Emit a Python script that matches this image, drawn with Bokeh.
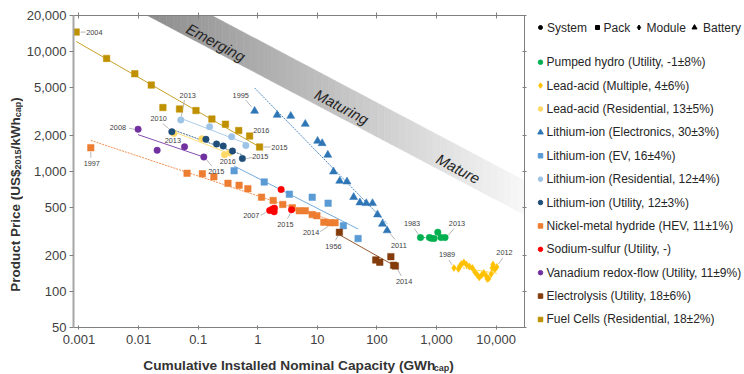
import math
import numpy as np
from bokeh.plotting import figure
from bokeh.layouts import row, column
from bokeh.models import LogAxis, FixedTicker, Range1d
from bokeh.core.properties import value
from bokeh.embed import file_html
from bokeh.resources import INLINE

FONT = "Liberation Sans"

# ---------------- axes ----------------
X_MIN, X_MAX = 0.00081, 29850
Y_MIN, Y_MAX = 50, 20000
X_TICKS = [0.001, 0.01, 0.1, 1, 10, 100, 1000, 10000]
X_TICK_LABELS = ["0.001", "0.01", "0.1", "1", "10", "100", "1,000", "10,000"]
Y_TICKS = [50, 100, 200, 500, 1000, 2000, 5000, 10000, 20000]
Y_TICK_LABELS = ["50", "100", "200", "500", "1,000", "2,000", "5,000", "10,000", "20,000"]

# ---------------- data (GWh_cap, US$2015/kWh_cap) ----------------
PH_X = [537, 759, 818, 908, 1047, 1189, 1386]
PH_Y = [281, 281, 277, 276, 311, 281, 281]

LAM_X = [1957, 2326, 2467, 2611, 2873, 3162, 3548, 3981, 4382, 4824, 5209,
         5733, 6192, 6813, 7079, 7499, 8254, 8576, 8846, 9441, 10193]
LAM_Y = [157, 154, 163, 169.5, 174.5, 168, 161.5, 157, 145.4, 137.2, 130.8,
         137.2, 142.6, 134.6, 127.1, 128.3, 139.9, 157, 168, 152.5, 160]

LAR_X = [0.0391, 0.1157, 0.2764, 0.335]
LAR_Y = [2073, 1873, 1380, 1431]

LIE_X = [0.885, 2.113, 3.576, 6.26, 10.08, 12.02, 14.96, 18.62, 23.7, 31.4,
         40.6, 51.7, 66.1, 84.1, 102, 123.5, 148]
LIE_Y = [3194, 2958, 2900, 2488, 1796, 1718, 1373, 996, 833, 822,
         610, 550, 543, 543, 437, 365, 322]

EV_X = [0.401, 1.283, 3.39, 8.19, 15.14, 27.3, 48.2]
EV_Y = [1015, 817, 647, 610, 544, 353, 276]

LIR_X = [0.0511, 0.1555, 0.3645, 0.631]
LIR_Y = [2687, 2362, 1950, 1647]

LIU_X = [0.0362, 0.1349, 0.2034, 0.263, 0.376, 0.552]
LIU_Y = [2146, 1855, 1695, 1631, 1482, 1283]

NIMH_X = [0.00158, 0.0651, 0.1175, 0.1834, 0.316, 0.486, 0.682, 1.157, 1.813,
          2.63, 3.80, 4.97, 6.26, 8.19, 9.81, 12.83, 16.15, 19.8]
NIMH_Y = [1579, 966, 957, 903, 797, 767, 719, 611, 573,
          531, 499, 471, 470, 437, 428, 378, 374, 374]

NAS_X = [1.585, 1.765, 1.884, 1.905, 2.464, 3.687]
NAS_Y = [473, 487, 462, 494, 708, 480]

VRF_X = [0.00981, 0.0205, 0.0591, 0.1245]
VRF_Y = [2252, 1502, 1606, 1321]

ELY_X = [23.4, 95.5, 111.4, 171, 190.5, 203.4]
ELY_Y = [311, 183, 175, 195, 165, 163]

FC_X = [0.000898, 0.00291, 0.00865, 0.01634, 0.0256, 0.0486, 0.0919, 0.170,
        0.287, 0.479, 0.730, 1.072]
FC_Y = [14540, 8775, 6531, 5258, 3415, 3318, 3224, 2738, 2479, 2196, 1976, 1600]

SERIES_KEYS = ["PH", "LAM", "LAR", "LIE", "EV", "LIR", "LIU", "NIMH", "NAS", "VRF", "ELY", "FC"]
SERIES_NAMES = [
    "Pumped hydro (Utility, -1±8%)",
    "Lead-acid (Multiple, 4±6%)",
    "Lead-acid (Residential, 13±5%)",
    "Lithium-ion (Electronics, 30±3%)",
    "Lithium-ion (EV, 16±4%)",
    "Lithium-ion (Residential, 12±4%)",
    "Lithium-ion (Utility, 12±3%)",
    "Nickel-metal hydride (HEV, 11±1%)",
    "Sodium-sulfur (Utility, -)",
    "Vanadium redox-flow (Utility, 11±9%)",
    "Electrolysis (Utility, 18±6%)",
    "Fuel Cells (Residential, 18±2%)",
]
SERIES_X = [PH_X, LAM_X, LAR_X, LIE_X, EV_X, LIR_X, LIU_X, NIMH_X, NAS_X, VRF_X, ELY_X, FC_X]
SERIES_Y = [PH_Y, LAM_Y, LAR_Y, LIE_Y, EV_Y, LIR_Y, LIU_Y, NIMH_Y, NAS_Y, VRF_Y, ELY_Y, FC_Y]
SERIES_TREND = [True, True, True, True, True, True, True, True, False, True, True, True]

LEGEND_HEADER = ["System", "Pack", "Module", "Battery"]
LEGEND_HEADER_MARKERS = ["circle", "square", "diamond", "triangle"]

# ---------------- styles ----------------
COLORS = ["#00B050", "#FFC000", "#FFD966", "#2E75B6", "#5B9BD5", "#9DC3E6",
          "#1F4E79", "#ED7D31", "#FF0000", "#7030A0", "#843C0C", "#BF9000"]
MARKERS = ["circle", "diamond", "circle", "triangle", "square", "circle",
           "circle", "square", "circle", "circle", "square", "square"]
SIZES = {"circle": 6.5, "square": 6.5, "triangle": 8, "diamond": 7}
LEG_SIZES = {"circle": 4.5, "square": 4.5, "triangle": 5.5, "diamond": 5.5}
DASHES = ["2 1", "2 1", "solid", "2 1", "solid", "solid", "2 1", "2 1", "solid", "solid", "solid", "solid"]

# page layout (px)
W, H = 744, 374
YT_W = 23                     # strip for the y title
MAIN_W, MAIN_H = 505, 350     # main plot
LEG_W = W - YT_W - MAIN_W     # legend strip
XT_H = H - MAIN_H             # strip for the x title
FRAME_W, FRAME_H = 454, 312
BORDER_L = MAIN_W - FRAME_W - 4
FRAME_X0 = YT_W + BORDER_L    # page x of the plot frame's left edge
PXD_X = FRAME_W / math.log10(X_MAX / X_MIN)
PXD_Y = FRAME_H / math.log10(Y_MAX / Y_MIN)

# year annotations: series, point index, text, label offset (px), leader offsets (px)
YEAR_LABELS = [
    ("FC", 0, "2004", 18.3, 0, (4.5, 0, 9.5, 0)),
    ("FC", 10, "2016", 11.7, -5.3, None),
    ("FC", 11, "2015", 20, 0, (4, 0, 11, 0)),
    ("LIR", 0, "2013", 7, -25, (0.5, -3.5, 3.7, -20)),
    ("LIU", 0, "2010", -13.3, -13.4, (-9, -8, -3, -3)),
    ("LIU", 5, "2015", 18, -1.8, (4, 0, 10, -1)),
    ("LAR", 0, "2013", -1, 6.5, None),
    ("LAR", 2, "2016", 3.3, 6.3, None),
    ("VRF", 0, "2008", -20.3, -1.5, (-9, -1, -4, 0)),
    ("VRF", 3, "2015", 12.5, 14.7, (2.5, 2.5, 8, 9)),
    ("LIE", 0, "1995", -14, -16, (-9, -11, -3, -4)),
    ("LIE", 16, "2011", 11.8, 14.5, (3, 3, 8, 9)),
    ("NIMH", 0, "1997", 1, 15.6, (0, 4, 0, 10)),
    ("NIMH", 16, "2014", -18.8, 9.6, (-10, 9, -2, 4)),
    ("NAS", 0, "2007", -18.5, 5.5, (-9, 5, -4, 2)),
    ("NAS", 5, "2015", -6.2, 14.3, (-4, 9, -1, 3)),
    ("ELY", 0, "1956", -6, 13.7, (-4, 8, -1, 3)),
    ("ELY", 5, "2014", 8.8, 15.7, (2, 3, 6, 10)),
    ("PH", 0, "1983", -8.5, -13.7, (-6, -9, -2, -3)),
    ("PH", 6, "2013", 12, -13.7, (3, -2, 9, -9)),
    ("LAM", 0, "1989", -7, -13, (-5, -8, -2, -3)),
    ("LAM", 20, "2012", 7.8, -14.3, (2, -3, 6, -9)),
]

# maturity band (lower edge anchors, thickness, gray ramp)
BAND_EDGE_X = [0.0133, 40000]
BAND_EDGE_Y = [20300, 404]
BAND_THICK = 1.92
BAND_GRAY = (140, 250)
BAND_TEXT = ["Emerging", "Maturing", "Mature"]
BAND_TEXT_X = [0.198, 25.6, 2308]
BAND_TEXT_Y = [11930, 3467, 1055]

# ---------------- main figure ----------------
p = figure(x_axis_type="log", y_axis_type="log",
           x_range=(X_MIN, X_MAX), y_range=(Y_MIN, Y_MAX),
           width=MAIN_W, height=MAIN_H,
           min_border_left=BORDER_L, min_border_right=4,
           min_border_top=15, min_border_bottom=MAIN_H - FRAME_H - 15,
           output_backend="svg", toolbar_location=None,
           outline_line_color=None, background_fill_color="white", border_fill_color="white")
p.grid.visible = False

xa = p.xaxis[0]
ya = p.yaxis[0]
xa.ticker = FixedTicker(ticks=X_TICKS)
ya.ticker = FixedTicker(ticks=Y_TICKS)
xa.major_label_overrides = {t: l for t, l in zip(X_TICKS, X_TICK_LABELS)}
ya.major_label_overrides = {t: l for t, l in zip(Y_TICKS, Y_TICK_LABELS)}
for ax in (xa, ya):
    ax.major_label_text_font = FONT
    ax.major_label_text_font_size = "13px"
    ax.major_label_text_color = "#404040"
    ax.minor_tick_line_color = None
    ax.major_tick_line_color = "#7f7f7f"
xa.axis_line_color = "#7f7f7f"
xa.major_tick_in = 2
xa.major_tick_out = 2
xa.major_label_standoff = 5
ya.axis_line_color = "#a6a6a6"
ya.axis_line_width = 2
ya.major_tick_in = 0
ya.major_tick_out = 4
ya.major_label_standoff = 3

top = LogAxis(ticker=FixedTicker(ticks=X_TICKS), major_label_text_font_size="1px",
              major_label_overrides={t: " " for t in X_TICKS},
              major_label_text_alpha=0, major_label_standoff=0,
              major_tick_in=3, major_tick_out=3,
              minor_tick_line_color=None, axis_line_color="#7f7f7f",
              major_tick_line_color="#7f7f7f")
right = LogAxis(ticker=FixedTicker(ticks=Y_TICKS), major_label_text_font_size="1px",
                major_label_overrides={t: " " for t in Y_TICKS},
                major_label_text_alpha=0, major_label_standoff=0,
                major_tick_in=2, major_tick_out=2,
                minor_tick_line_color=None, axis_line_color="#7f7f7f",
                major_tick_line_color="#7f7f7f")
p.add_layout(top, "above")
p.add_layout(right, "right")

# band with gradient
slope = math.log10(BAND_EDGE_Y[1] / BAND_EDGE_Y[0]) / math.log10(BAND_EDGE_X[1] / BAND_EDGE_X[0])
def band_low(x):
    return BAND_EDGE_Y[0] * (x / BAND_EDGE_X[0]) ** slope
lx0 = math.log10(BAND_EDGE_X[0]) - 0.6
lx1 = math.log10(BAND_EDGE_X[1])
N = 60
bxs, bys, bcol = [], [], []
for i in range(N):
    a = 10 ** (lx0 + (lx1 - lx0) * i / N)
    b = 10 ** (lx0 + (lx1 - lx0) * (i + 1) / N)
    t = (math.log10((a * b) ** 0.5) - math.log10(BAND_EDGE_X[0])) / (lx1 - math.log10(BAND_EDGE_X[0]))
    t = min(max(t, 0), 1)
    g = int(round(BAND_GRAY[0] + (BAND_GRAY[1] - BAND_GRAY[0]) * t))
    bxs.append([a, b, b, a])
    bys.append([band_low(a), band_low(b), band_low(b) * BAND_THICK, band_low(a) * BAND_THICK])
    bcol.append("#%02x%02x%02x" % (g, g, g))
p.patches(bxs, bys, fill_color=bcol, line_color=bcol, line_width=0.6)
p.text(x=BAND_TEXT_X, y=BAND_TEXT_Y, text=BAND_TEXT, angle=-0.49,
       text_font=value(FONT), text_font_style="italic", text_font_size="15px",
       text_color="#262626", text_align="center", text_baseline="middle")

# trend lines (log-log least squares)
for xs, ys, col, dash, tr in zip(SERIES_X, SERIES_Y, COLORS, DASHES, SERIES_TREND):
    if tr:
        lx = np.log10(xs)
        ly = np.log10(ys)
        b, a = np.polyfit(lx, ly, 1)
        ex = np.array([lx.min(), lx.max()])
        p.line(10 ** ex, 10 ** (a + b * ex), line_color=col, line_width=1,
               line_dash=dash, line_alpha=0.85)

# leader lines + year labels
idx = {k: i for i, k in enumerate(SERIES_KEYS)}
sx0, sy0, sx1, sy1 = [], [], [], []
tx, ty, tt = [], [], []
for key, pi, txt, dx, dy, lead in YEAR_LABELS:
    px = SERIES_X[idx[key]][pi]
    py = SERIES_Y[idx[key]][pi]
    tx.append(px * 10 ** (dx / PXD_X))
    ty.append(py * 10 ** (-dy / PXD_Y))
    tt.append(txt)
    if lead:
        sx0.append(px * 10 ** (lead[0] / PXD_X)); sy0.append(py * 10 ** (-lead[1] / PXD_Y))
        sx1.append(px * 10 ** (lead[2] / PXD_X)); sy1.append(py * 10 ** (-lead[3] / PXD_Y))
p.segment(sx0, sy0, sx1, sy1, line_color="#a6a6a6", line_width=0.8)

for xs, ys, col, mk in zip(SERIES_X, SERIES_Y, COLORS, MARKERS):
    p.scatter(xs, ys, marker=mk, size=SIZES[mk], fill_color=col, line_color=col, line_width=0.5)

p.text(x=tx, y=ty, text=tt, text_font=value(FONT), text_font_size="7.3px",
       text_color="#404040", text_align="center", text_baseline="middle")


# ---------------- helper strips ----------------
def strip(w, h, xr):
    f = figure(width=w, height=h, x_range=xr, y_range=Range1d(0, h),
               x_axis_type=None, y_axis_type=None, min_border=0,
               output_backend="svg", toolbar_location=None, outline_line_color=None,
               background_fill_color="white", border_fill_color="white")
    f.grid.visible = False
    return f

AB = {' ': 278, '(': 333, ')': 333, '$': 556, '/': 278, '0': 556, '1': 556, '2': 556, '5': 556,
      'C': 722, 'G': 778, 'I': 278, 'N': 722, 'P': 667, 'S': 667, 'U': 722, 'W': 944,
      'a': 556, 'c': 556, 'd': 611, 'e': 556, 'h': 611, 'i': 278, 'k': 556, 'l': 278, 'm': 889,
      'n': 611, 'o': 611, 'p': 611, 'r': 389, 's': 556, 't': 333, 'u': 611, 'v': 556, 'y': 556}

def tw(s, size):
    return sum(AB.get(c, 556) for c in s) * size / 1000.0

TITLE_COLOR = "#333333"

# x title strip: its frame is aligned with the main frame, so x is in page px
fx = strip(MAIN_W, XT_H, Range1d(FRAME_X0, FRAME_X0 + FRAME_W))
x_pieces = [("Cumulative Installed Nominal Capacity (GWh", 13.7, 0), ("cap", 9, 2.5), (")", 13.7, 0)]
x_center = 296.5                 # page x
x_base = H - 364.5               # measured from strip bottom
pos = x_center - sum(tw(t, s) for t, s, _ in x_pieces) / 2
for t, s, sh in x_pieces:
    fx.text(x=[pos], y=[x_base - sh], text=[t], text_font=value(FONT), text_font_size=f"{s}px",
            text_font_style="bold", text_color=TITLE_COLOR, text_align="left",
            text_baseline="alphabetic")
    pos += tw(t, s)

# y title strip (left of main plot), reading bottom to top
fy = strip(YT_W, H, Range1d(0, YT_W))
y_pieces = [("Product Price (US$", 13.5, 0), ("2015", 9, 2), ("/kWh", 13.5, 0),
            ("cap", 9, 2), (")", 13.5, 0)]
y_center = H - 194
y_base = 15
pos = y_center - sum(tw(t, s) for t, s, _ in y_pieces) / 2
for t, s, sh in y_pieces:
    fy.text(x=[y_base + sh], y=[pos], text=[t], angle=math.pi / 2, text_font=value(FONT),
            text_font_size=f"{s}px", text_font_style="bold", text_color=TITLE_COLOR,
            text_align="left", text_baseline="alphabetic")
    pos += tw(t, s)

# legend strip (x measured from the strip's left edge, y from its bottom)
fl = strip(LEG_W, H, Range1d(0, LEG_W))
OFF = YT_W + MAIN_W
LEG_X0 = 540 - OFF
LEG_TX = 546 - OFF
LEG_Y0, LEG_DY = 61.7, 23.39
leg_y = [H - (LEG_Y0 + LEG_DY * i) for i in range(len(SERIES_NAMES))]
for i, (col, mk) in enumerate(zip(COLORS, MARKERS)):
    fl.scatter([LEG_X0], [leg_y[i]], marker=mk, size=LEG_SIZES[mk], fill_color=col, line_color=col)
fl.text(x=[LEG_TX] * len(SERIES_NAMES), y=leg_y, text=SERIES_NAMES, text_font=value(FONT),
        text_font_size="12px", text_color="#262626", text_align="left", text_baseline="middle")

HEAD_Y = H - 27
HEAD_MK_X = [540, 597, 638.5, 694]
HEAD_TX_X = [546.5, 603, 646, 702.5]
for mk, mx in zip(LEGEND_HEADER_MARKERS, HEAD_MK_X):
    fl.scatter([mx - OFF], [HEAD_Y], marker=mk, size=LEG_SIZES[mk] - 0.5,
               fill_color="#000000", line_color="#000000")
fl.text(x=[v - OFF for v in HEAD_TX_X], y=[HEAD_Y] * 4, text=LEGEND_HEADER,
        text_font=value(FONT), text_font_size="12px", text_color="#262626",
        text_align="left", text_baseline="middle")

layout = row(fy, column(p, fx, spacing=0), fl, spacing=0)
open("out.html", "w").write(file_html(layout, INLINE))
